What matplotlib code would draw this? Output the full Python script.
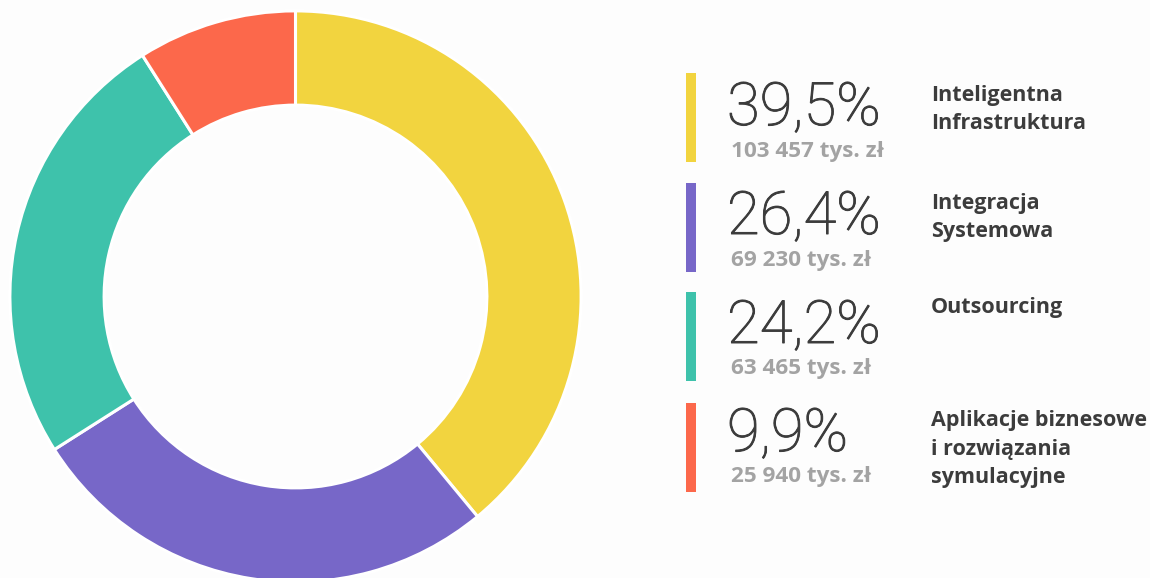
import matplotlib
matplotlib.use("Agg")
import matplotlib.pyplot as plt
import matplotlib.patheffects as pe

categories = [["Inteligentna", "Infrastruktura"],
              ["Integracja", "Systemowa"],
              ["Outsourcing"],
              ["Aplikacje biznesowe", "i rozwiązania", "symulacyjne"]]
share_labels = ["39,5%", "26,4%", "24,2%", "9,9%"]
amounts = ["103 457 tys. zł", "69 230 tys. zł", "63 465 tys. zł", "25 940 tys. zł"]
# arc shares as drawn in the ring of the reference picture (%)
ring_shares = [39.0, 27.0, 25.0, 9.0]
colors = ["#F2D43F", "#7767C8", "#3EC2AB", "#FC684B"]

W, H = 1150, 578
BG = "#FDFDFD"
fig = plt.figure(figsize=(W / 100, H / 100), dpi=100, facecolor=BG)
ax = fig.add_axes([0, 0, 1, 1])
ax.set_facecolor(BG)

cx, cy = 295.5, H - 296.5
r_out, r_in = 285.6, 191.4
ax.pie(ring_shares, colors=colors, startangle=90, counterclock=False,
       center=(cx, cy), radius=r_out,
       wedgeprops=dict(width=r_out - r_in, edgecolor="white", linewidth=2.2))
ax.set_xlim(0, W)
ax.set_ylim(0, H)
ax.set_aspect("equal")
ax.axis("off")

def fy(py):
    return 1 - py / H

def fx(px):
    return px / W

bar_tops = [73, 183, 292, 403]
bar_h = 89
big_base = [125, 234, 343, 451]
sub_base = [157, 266, 374, 482]
lab_base = [101, 209, 313, 426]
DARK = "#3C3C3C"

for i in range(4):
    ax.add_patch(plt.Rectangle((686, H - bar_tops[i] - bar_h), 10, bar_h,
                               facecolor=colors[i], edgecolor="none"))
    fig.text(fx(727), fy(big_base[i]), share_labels[i], family="Roboto",
             fontweight="light", fontsize=43, color=DARK,
             ha="left", va="baseline",
             path_effects=[pe.withStroke(linewidth=0.7, foreground=DARK)])
    fig.text(fx(731), fy(sub_base[i]), amounts[i], family="Open Sans",
             fontweight="bold", fontsize=16.2, color="#A3A3A3",
             ha="left", va="baseline")
    for j, line in enumerate(categories[i]):
        fig.text(fx(931), fy(lab_base[i] + 28.5 * j), line, family="Open Sans",
                 fontweight="bold", fontsize=15.5, color=DARK,
                 ha="left", va="baseline")

fig.savefig("out.png", dpi=100, facecolor=BG)
